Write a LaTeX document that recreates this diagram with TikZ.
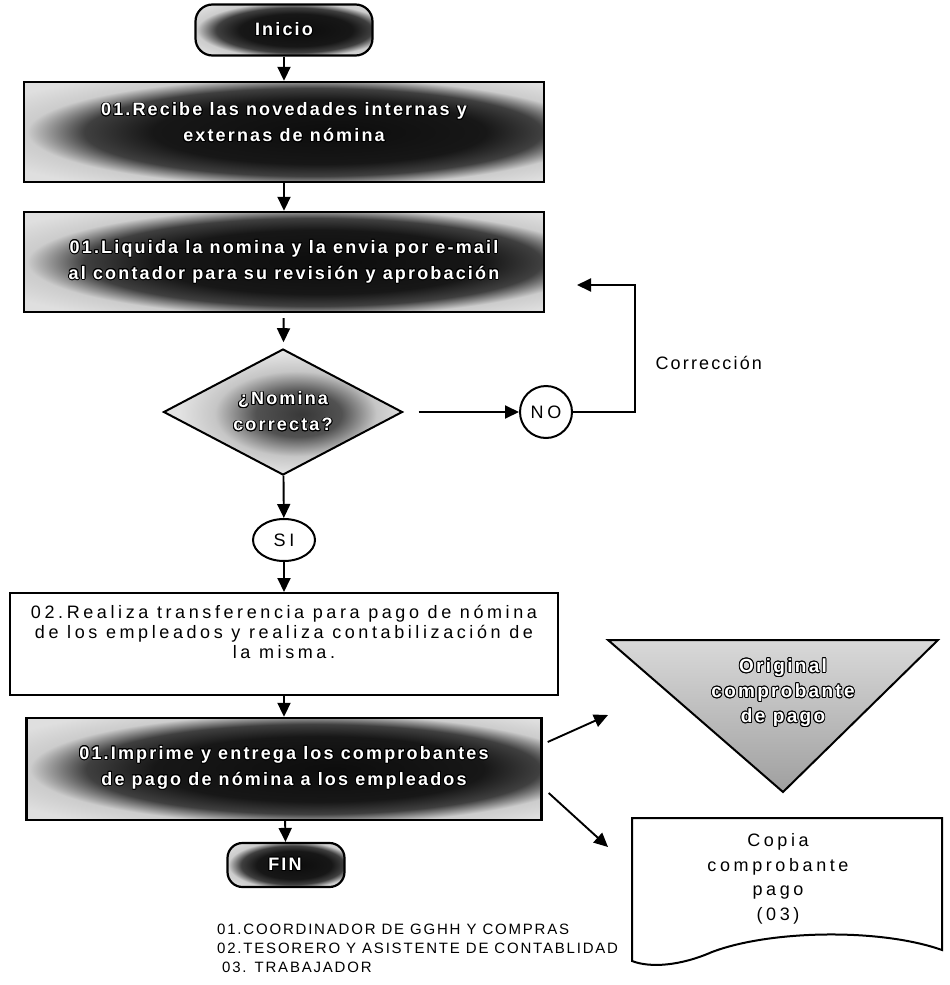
\documentclass[tikz,border=0pt]{standalone}
\usepackage{fontspec}
\setmainfont{Liberation Sans}
\newfontfamily\wideface[LetterSpace=20]{Liberation Sans}
\newfontfamily\midface[LetterSpace=12]{Liberation Sans}
\usepackage{contour}
\contourlength{0.9pt}
\contournumber{16}
\newcommand{\olin}[1]{\contour{black}{#1}}
\usetikzlibrary{arrows.meta,shapes.geometric,calc}
% dark blob with lighter rim, slightly off-centre to the right
\pgfdeclareradialshading{blobshade}{\pgfpoint{5bp}{0bp}}{%
  color(0bp)=(black!95); color(16bp)=(black!91); color(22bp)=(black!75);
  color(27bp)=(gray!40); color(33bp)=(gray!25); color(50bp)=(gray!25)}
\pgfdeclareradialshading{diamshade}{\pgfpoint{4bp}{-1bp}}{%
  color(0bp)=(black!78); color(9bp)=(black!68); color(17bp)=(gray!45);
  color(24bp)=(gray!22); color(50bp)=(gray!15)}
\begin{document}
\begin{tikzpicture}[x=1pt,y=-1pt,
  flow/.style={line width=1.9pt,-{Triangle[length=14pt,width=13pt]}},
  darkbox/.style={draw,line width=2.4pt,rectangle,inner sep=0pt,shade,shading=blobshade},
  plainbox/.style={draw,line width=2pt,rectangle,inner sep=0pt,fill=white},
  term/.style={draw,line width=2.2pt,rectangle,rounded corners=17pt,inner sep=0pt,shade,shading=blobshade},
  darktext/.style={text=white,align=center,font=\midface\bfseries\fontsize{18}{26}\selectfont},
  plaintext/.style={text=black,align=center,font=\wideface\fontsize{18}{20}\selectfont},
  bubble/.style={draw,line width=2pt,inner sep=0pt,fill=white,font=\wideface\fontsize{18}{20}\selectfont},
  legend/.style={align=left,font=\midface\fontsize{15}{19}\selectfont,inner sep=0pt}]
\useasboundingbox (0,0) rectangle (950,985);

% main column
\node[term,minimum width=177pt,minimum height=51pt] (ini) at (284,30) {};
\node[darktext] (init) at (284,30) {\olin{Inicio}};

\node[darkbox,minimum width=520pt,minimum height=100pt] (b1) at (284,132) {};
\node[darktext] (b1t) at (284,123) {\olin{01.Recibe las novedades internas y}\\\olin{externas de nómina}};

\node[darkbox,minimum width=520pt,minimum height=100pt] (b2) at (284,262) {};
\node[darktext] (b2t) at (284,262) {\olin{01.Liquida la nomina y la envia por e-mail}\\\olin{al contador para su revisión y aprobación}};

\node[draw,line width=2pt,diamond,minimum width=239pt,minimum height=126pt,inner sep=0pt,
  shade,shading=diamshade] (dec) at (283,412) {};
\node[darktext] (dect) at (283,412) {\olin{¿Nomina}\\\olin{correcta?}};

\node[bubble,circle,minimum size=52pt] (no) at (546,412) {NO};
\node[bubble,ellipse,minimum width=62pt,minimum height=42pt] (si) at (284,540) {SI};

\node[plainbox,minimum width=548pt,minimum height=102pt] (b3) at (284,644) {};
\node[plaintext] (b3t) at (284,632) {02.Realiza transferencia para pago de nómina\\de los empleados y realiza contabilización de\\la misma.};

\node[darkbox,minimum width=515pt,minimum height=102pt] (b4) at (284,769) {};
\node[darktext] (b4t) at (284,768) {\olin{01.Imprime y entrega los comprobantes}\\\olin{de pago de nómina a los empleados}};

\node[term,minimum width=117pt,minimum height=44pt,rounded corners=15pt] (fin) at (286,865) {};
\node[darktext] (fint) at (285,865) {\olin{FIN}};

% vertical flow
\draw[flow] (ini) -- (b1);
\draw[flow] (b1) -- (b2);
\draw[flow,shorten <=5pt,shorten >=6pt] (b2) -- (dec);
\draw[flow] (dec) -- (si);
\draw[flow] (si) -- (b3);
\draw[flow] (b3) -- (b4);
\draw[flow] (b4) -- (fin);

% correction loop
\coordinate (loopc) at (635,285);
\coordinate (corrend) at (577,285);
\draw[flow,shorten <=15pt] (dec) -- (no);
\draw[flow] (no.east) -| (loopc) -- (corrend);
\node[anchor=west,font=\midface\fontsize{18}{20}\selectfont] (corr) at (652,363) {Corrección};

% original voucher
\coordinate (t1) at (608,640);
\coordinate (t2) at (938,640);
\coordinate (t3) at (783,792);
\draw[line width=2pt,top color=gray!30,bottom color=gray!75] (t1) -- (t2) -- (t3) -- cycle;
\node[darktext,font=\midface\bfseries\fontsize{19}{25}\selectfont] (orig) at (783,693) {\olin{Original}\\\olin{comprobante}\\\olin{de pago}};

% copy voucher (document shape)
\coordinate (d1) at (632,818);
\coordinate (d2) at (942,818);
\draw[line width=2pt,fill=white] (d1) -- (d2) -- (942,950)
  .. controls (880,928) and (770,930) .. (712,952)
  .. controls (680,966) and (650,968) .. (632,961) -- cycle;
\node[plaintext,font=\wideface\fontsize{18}{24.5}\selectfont] (copia) at (778,879) {Copia\\comprobante\\pago\\(03)};

% outputs of the printing step
\coordinate (origin) at (608,715);
\coordinate (copyin) at (608,847);
\draw[flow] ($(b4.east)+(5,-27)$) -- (origin);
\draw[flow] ($(b4.east)+(6,24)$) -- (copyin);

% roles
\node[legend,anchor=north west] (roles) at (217,924) {01.COORDINADOR DE GGHH Y COMPRAS\\02.TESORERO Y ASISTENTE DE CONTABLIDAD\\\hspace*{5pt}03. TRABAJADOR};
\end{tikzpicture}
\end{document}
